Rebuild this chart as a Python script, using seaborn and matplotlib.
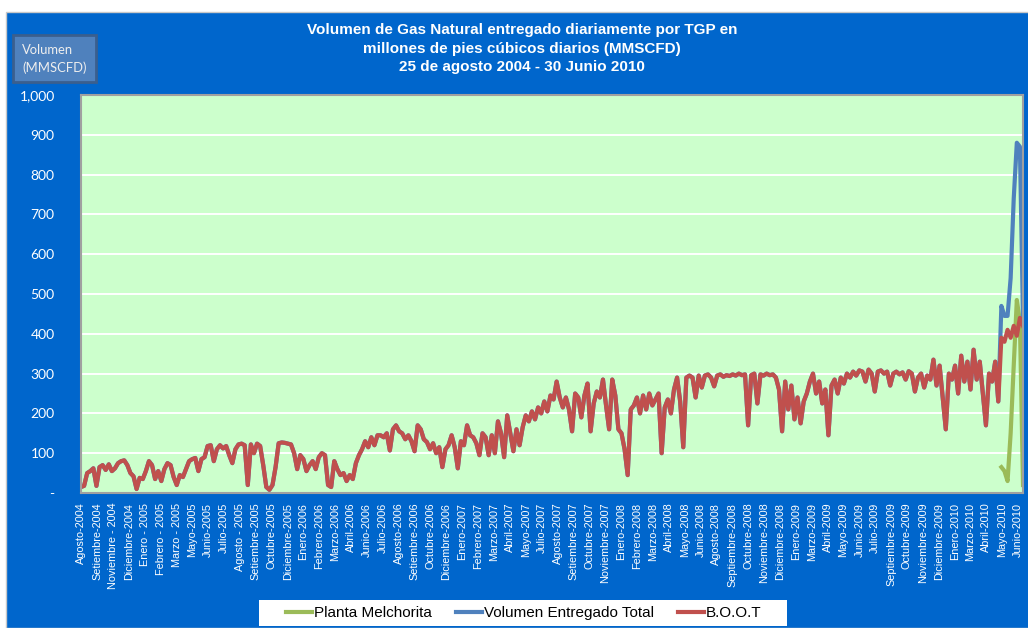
import numpy as np
import pandas as pd
import seaborn as sns
import matplotlib.pyplot as plt
from matplotlib.patches import Rectangle
from matplotlib.lines import Line2D

# semanas del 25 de agosto 2004 al 30 de junio 2010 (MMSCFD)
inicio = '2004-08-25'
fin = '2010-06-30'

boot = [
    15, 18, 50, 55, 62, 18, 65, 70, 58, 72,
    55, 62, 75, 80, 82, 70, 50, 42, 10, 38,
    35, 55, 80, 70, 35, 55, 30, 60, 75, 70,
    40, 20, 45, 40, 60, 80, 85, 88, 55, 85,
    90, 118, 120, 80, 110, 120, 112, 118, 95, 75,
    110, 122, 124, 120, 20, 122, 100, 124, 118, 70,
    15, 8, 20, 65, 125, 127, 126, 124, 122, 100,
    60, 95, 85, 55, 70, 80, 60, 90, 100, 95,
    20, 15, 80, 60, 45, 50, 30, 45, 35, 75,
    95, 110, 130, 115, 140, 120, 145, 145, 140, 150,
    107, 160, 170, 155, 150, 135, 145, 130, 105, 170,
    160, 135, 128, 110, 125, 100, 115, 65, 110, 120,
    145, 115, 62, 130, 120, 170, 145, 140, 125, 95,
    150, 140, 95, 145, 100, 180, 150, 90, 195, 150,
    105, 160, 120, 165, 195, 180, 205, 185, 215, 200,
    230, 205, 245, 235, 280, 240, 215, 240, 210, 155,
    250, 240, 190, 245, 275, 155, 225, 255, 240, 285,
    220, 160, 285, 245, 160, 150, 110, 45, 210, 220,
    240, 200, 245, 210, 250, 220, 235, 250, 100, 215,
    235, 200, 260, 290, 230, 115, 290, 295, 290, 240,
    295, 265, 295, 298, 290, 268, 295, 298, 292, 296,
    294, 298, 295, 300, 296, 298, 170, 296, 300, 225,
    298, 295, 300, 296, 298, 290, 260, 155, 280, 210,
    270, 185, 240, 175, 230, 250, 280, 300, 250, 280,
    225, 260, 145, 270, 285, 250, 290, 275, 300, 290,
    305, 295, 308, 305, 280, 310, 300, 255, 305, 308,
    300, 305, 270, 300, 305, 298, 303, 285, 306, 300,
    255, 290, 300, 265, 295, 285, 335, 270, 320, 240,
    160, 300, 285, 320, 250, 345, 280, 330, 260, 360,
    285, 330, 250, 170, 300, 280, 330, 230, 390, 380,
    410, 390, 420, 395, 440, 420,
]
# ultimas 8 semanas (desde mayo 2010)
melchorita = [65, 55, 30, 150, 320, 485, 430, 20]
total_final = [470, 445, 445, 540, 740, 880, 870, 440]

meses = [
    'Agosto-2004', 'Setiembre-2004', 'Noviembre - 2004', 'Diciembre-2004', 'Enero - 2005',
    'Febrero - 2005', 'Marzo - 2005', 'Mayo-2005', 'Junio-2005', 'Julio-2005',
    'Agosto - 2005', 'Setiembre-2005', 'Octubre-2005', 'Diciembre-2005', 'Enero-2006',
    'Febrero-2006', 'Marzo-2006', 'Abril-2006', 'Junio-2006', 'Julio-2006',
    'Agosto-2006', 'Setiembre-2006', 'Octubre-2006', 'Diciembre-2006', 'Enero-2007',
    'Febrero-2007', 'Marzo-2007', 'Abril-2007', 'Mayo-2007', 'Julio-2007',
    'Agosto-2007', 'Setiembre-2007', 'Octubre-2007', 'Noviembre-2007', 'Enero-2008',
    'Febrero-2008', 'Marzo-2008', 'Abril-2008', 'Mayo-2008', 'Junio-2008',
    'Agosto-2008', 'Septiembre-2008', 'Octubre-2008', 'Noviembre-2008', 'Diciembre-2008',
    'Enero-2009', 'Marzo-2009', 'Abril-2009', 'Mayo-2009', 'Junio-2009',
    'Julio-2009', 'Septiembre-2009', 'Octubre-2009', 'Noviembre-2009', 'Diciembre-2009',
    'Enero-2010', 'Marzo-2010', 'Abril-2010', 'Mayo-2010', 'Junio-2010',
]

fechas = pd.date_range(inicio, fin, freq='7D')
df = pd.DataFrame({'fecha': fechas, 'boot': boot})
n = len(melchorita)
df['melchorita'] = np.nan
df.loc[len(df) - n:, 'melchorita'] = melchorita
df['total'] = df['boot'].astype(float)
df.loc[len(df) - n:, 'total'] = total_final

plt.rcParams['font.family'] = ['Liberation Sans', 'DejaVu Sans']

W, H = 1028, 628
fig = plt.figure(figsize=(W / 100, H / 100), dpi=100, facecolor='white')
fig.patches.append(Rectangle((6 / W, 0), 1, 616 / H, transform=fig.transFigure,
                             facecolor='#0066CC', edgecolor='#C8C8C8', lw=1, zorder=-10))

ax = fig.add_axes([81 / W, (H - 493) / H, (1023 - 81) / W, (493 - 95) / H])
ax.set_zorder(5)
ax.set_facecolor('#CCFFCC')

verde, azul, rojo = '#9BBB59', '#4F81BD', '#C0504D'
sns.lineplot(data=df, x='fecha', y='melchorita', color=verde, lw=3, ax=ax, estimator=None)
sns.lineplot(data=df, x='fecha', y='total', color=azul, lw=3, ax=ax, estimator=None)
sns.lineplot(data=df, x='fecha', y='boot', color=rojo, lw=3, ax=ax, estimator=None)

ax.set_xlim(fechas[0], fechas[-1])
ax.set_ylim(0, 1000)
ax.set_xlabel('')
ax.set_ylabel('')
ax.set_yticks(range(0, 1001, 100))
ax.set_yticklabels(['-'] + [f'{v:,}' for v in range(100, 1001, 100)],
                   family=['Lato', 'DejaVu Sans'], fontsize=10, color='white')
ax.yaxis.grid(True, color='white', lw=1.4)
ax.set_axisbelow(True)

pos = pd.to_datetime(inicio) + pd.to_timedelta(np.linspace(0.5, 2124, len(meses)), unit='D')
ax.set_xticks(pos)
ax.set_xticklabels(meses, rotation=90, fontsize=7.8, color='white')
ax.tick_params(axis='y', length=0, pad=19)
ax.tick_params(axis='x', length=0, pad=7)
for s in ax.spines.values():
    s.set_color('#A0A0A0')
    s.set_linewidth(1.5)

titulo = ['Volumen de Gas Natural entregado diariamente por TGP en',
          'millones de pies cúbicos diarios (MMSCFD)',
          '25 de agosto 2004 - 30 Junio 2010']
for t, y in zip(titulo, [30, 48.5, 67]):
    fig.text(522 / W, 1 - y / H, t, ha='center', va='center', color='white',
             fontsize=11, fontweight='bold')

# recuadro de unidades
fig.patches.append(Rectangle((13 / W, (H - 82) / H), 83 / W, 47 / H, transform=fig.transFigure,
                             facecolor='#4F81BD', edgecolor='#3A5F8E', lw=2, zorder=1))
fig.text(22 / W, 1 - 50 / H, 'Volumen', ha='left', va='center', color='#EEEEEE',
         fontsize=9.4, family=['Lato', 'DejaVu Sans'])
fig.text(22 / W, 1 - 68 / H, '(MMSCFD)', ha='left', va='center', color='#EEEEEE',
         fontsize=9.4, family=['Lato', 'DejaVu Sans'])

# leyenda sobre recuadro blanco
fig.patches.append(Rectangle((259 / W, (H - 626) / H), 528 / W, 26 / H, transform=fig.transFigure,
                             facecolor='white', edgecolor='none', zorder=1))
handles = [Line2D([], [], color=c, lw=3) for c in (verde, azul, rojo)]
leg = fig.legend(handles, ['Planta Melchorita', 'Volumen Entregado Total', 'B.O.O.T'],
                 loc='center', bbox_to_anchor=(524 / W, (H - 613) / H), ncol=3,
                 fontsize=11, frameon=False, handlelength=1.7, handletextpad=0.15,
                 columnspacing=1.55, borderpad=0, borderaxespad=0)

fig.savefig('out.png', dpi=100, facecolor=fig.get_facecolor())
